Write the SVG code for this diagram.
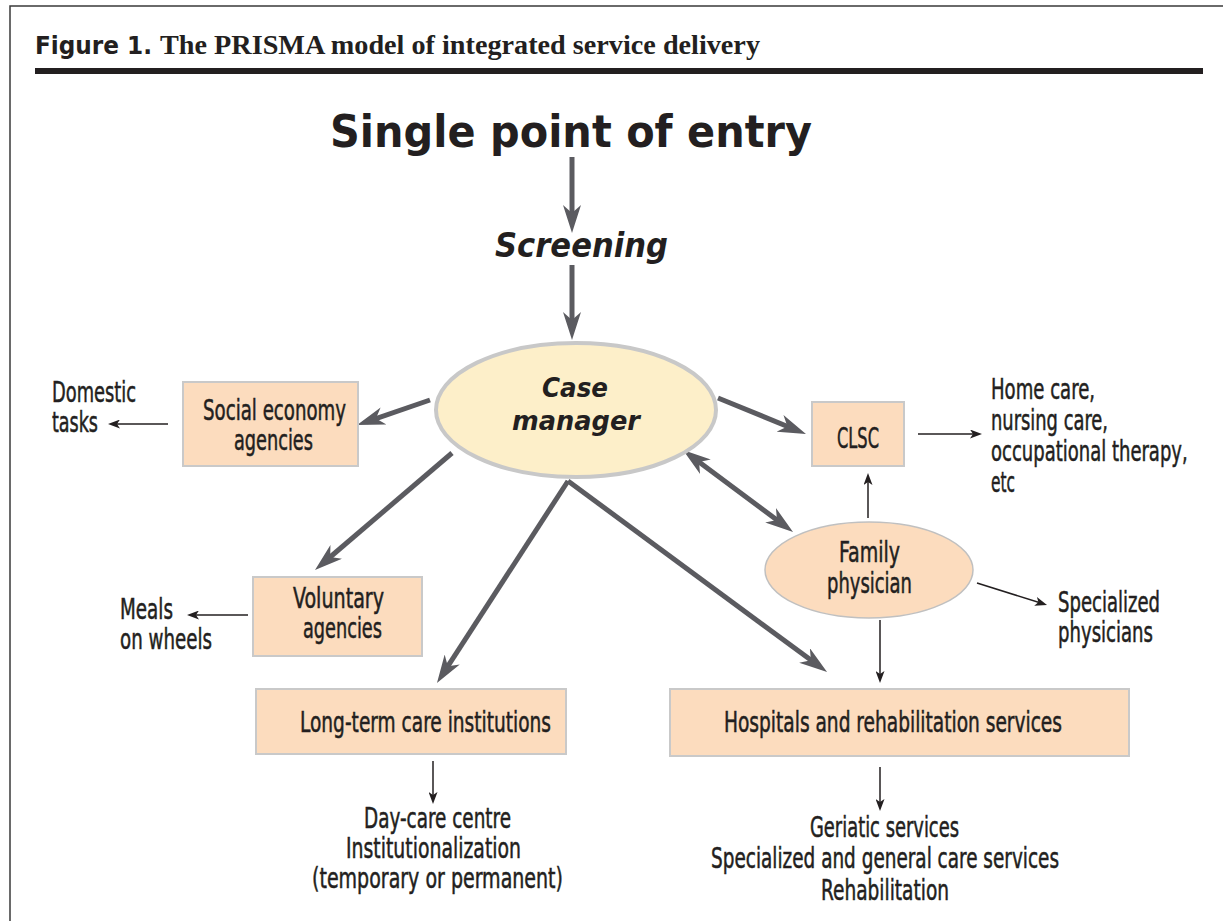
<svg xmlns="http://www.w3.org/2000/svg" width="1223" height="921" viewBox="0 0 1223 921">
<defs>
<style>
.frame{stroke:#3a3a3a;stroke-width:1.5;fill:none}
.box{fill:#fcdcbe;stroke:#c9c9c9;stroke-width:2}
.t{font-family:"DejaVu Sans Condensed","DejaVu Sans",sans-serif;font-stretch:condensed;font-size:28px;fill:#231f20;stroke:#231f20;stroke-width:0.5}
.b{font-family:"DejaVu Sans","Liberation Sans",sans-serif;font-weight:bold;fill:#231f20}
.thick{stroke:#5b5b60;stroke-width:5;fill:none}
.thin{stroke:#231f20;stroke-width:1.5;fill:none}
</style>
<marker id="big" markerUnits="userSpaceOnUse" markerWidth="28" markerHeight="18" viewBox="0 0 28 18" refX="18" refY="9" orient="auto-start-reverse">
<path d="M0,0 L28,9 L0,18 L8,9 Z" fill="#5b5b60"/>
</marker>
<marker id="small" markerUnits="userSpaceOnUse" markerWidth="12" markerHeight="9" viewBox="0 0 12 9" refX="8" refY="4.5" orient="auto">
<path d="M0,0 L12,4.5 L0,9 L3,4.5 Z" fill="#231f20"/>
</marker>
</defs>
<rect width="1223" height="921" fill="#ffffff"/>
<g id="frame">
<path class="frame" d="M10,921 L10,6 L1223,6"/>
<rect x="35" y="68" width="1168" height="6" fill="#231f20"/>
<text x="35" y="54" class="b" font-size="24" textLength="117" lengthAdjust="spacingAndGlyphs">Figure 1.</text>
<text x="160" y="54" font-family="'Liberation Serif',serif" font-weight="bold" font-size="27" fill="#231f20" textLength="600" lengthAdjust="spacingAndGlyphs">The PRISMA model of integrated service delivery</text>
</g>
<g id="connectors">
<line class="thick" x1="572" y1="157" x2="572" y2="223" marker-end="url(#big)"/>
<line class="thick" x1="572" y1="265" x2="572" y2="330" marker-end="url(#big)"/>
<line class="thick" x1="430" y1="400" x2="366.5" y2="421.8" marker-end="url(#big)"/>
<line class="thick" x1="452" y1="453" x2="322.6" y2="563.5" marker-end="url(#big)"/>
<line class="thick" x1="568" y1="481" x2="442.4" y2="674.6" marker-end="url(#big)"/>
<line class="thick" x1="568" y1="481" x2="819" y2="666.1" marker-end="url(#big)"/>
<line class="thick" x1="718" y1="398" x2="796.7" y2="430.2" marker-end="url(#big)"/>
<line class="thick" x1="691" y1="456" x2="785" y2="526" marker-start="url(#big)" marker-end="url(#big)"/>
<line class="thin" x1="168" y1="424" x2="112" y2="424" marker-end="url(#small)"/>
<line class="thin" x1="248" y1="615" x2="191" y2="615" marker-end="url(#small)"/>
<line class="thin" x1="918" y1="434" x2="978" y2="434" marker-end="url(#small)"/>
<line class="thin" x1="868" y1="518" x2="868" y2="477" marker-end="url(#small)"/>
<line class="thin" x1="977" y1="583" x2="1043.2" y2="603.8" marker-end="url(#small)"/>
<line class="thin" x1="880" y1="620" x2="880" y2="679" marker-end="url(#small)"/>
<line class="thin" x1="433" y1="761" x2="433" y2="800" marker-end="url(#small)"/>
<line class="thin" x1="880" y1="767" x2="880" y2="807" marker-end="url(#small)"/>
</g>
<g id="entry">
<text x="330" y="147" class="b" font-size="45" textLength="482" lengthAdjust="spacingAndGlyphs">Single point of entry</text>
</g>
<g id="screening">
<text x="495" y="257" class="b" font-style="italic" font-size="33" textLength="173" lengthAdjust="spacingAndGlyphs">Screening</text>
</g>
<g id="case-manager">
<ellipse cx="576" cy="410" rx="140" ry="67" fill="#fdefc9" stroke="#c8c8c8" stroke-width="4"/>
<text x="542" y="397" class="b" font-style="italic" font-size="26" textLength="66" lengthAdjust="spacingAndGlyphs">Case</text>
<text x="512" y="430" class="b" font-style="italic" font-size="26" textLength="128" lengthAdjust="spacingAndGlyphs">manager</text>
</g>
<g id="social-economy">
<rect class="box" x="183" y="382" width="175" height="84"/>
<text x="203" y="420" class="t" textLength="143" lengthAdjust="spacingAndGlyphs">Social economy</text>
<text x="234" y="450" class="t" textLength="79" lengthAdjust="spacingAndGlyphs">agencies</text>
</g>
<g id="domestic">
<text x="52" y="402" class="t" textLength="84" lengthAdjust="spacingAndGlyphs">Domestic</text>
<text x="52" y="432" class="t" textLength="46" lengthAdjust="spacingAndGlyphs">tasks</text>
</g>
<g id="voluntary">
<rect class="box" x="253" y="577" width="169" height="79"/>
<text x="293" y="608" class="t" textLength="91" lengthAdjust="spacingAndGlyphs">Voluntary</text>
<text x="303" y="638" class="t" textLength="79" lengthAdjust="spacingAndGlyphs">agencies</text>
</g>
<g id="meals">
<text x="120" y="619" class="t" textLength="53" lengthAdjust="spacingAndGlyphs">Meals</text>
<text x="120" y="649" class="t" textLength="92" lengthAdjust="spacingAndGlyphs">on wheels</text>
</g>
<g id="clsc">
<rect class="box" x="812" y="402" width="92" height="64"/>
<text x="837" y="448" class="t" textLength="42" lengthAdjust="spacingAndGlyphs">CLSC</text>
</g>
<g id="home-care">
<text x="991" y="399" class="t" textLength="104" lengthAdjust="spacingAndGlyphs">Home care,</text>
<text x="991" y="430" class="t" textLength="117" lengthAdjust="spacingAndGlyphs">nursing care,</text>
<text x="0" y="0" class="t" transform="translate(991,461) scale(0.7,1)" textLength="281" lengthAdjust="spacingAndGlyphs">occupational therapy,</text>
<text x="991" y="492" class="t" textLength="24" lengthAdjust="spacingAndGlyphs">etc</text>
</g>
<g id="family-physician">
<ellipse cx="869" cy="570" rx="104" ry="48" fill="#fcdcbe" stroke="#c0c0c0" stroke-width="1.5"/>
<text x="839" y="562" class="t" textLength="61" lengthAdjust="spacingAndGlyphs">Family</text>
<text x="827" y="593" class="t" textLength="85" lengthAdjust="spacingAndGlyphs">physician</text>
</g>
<g id="specialized-physicians">
<text x="1058" y="612" class="t" font-size="25" textLength="102" lengthAdjust="spacingAndGlyphs">Specialized</text>
<text x="1058" y="642" class="t" font-size="25" textLength="95" lengthAdjust="spacingAndGlyphs">physicians</text>
</g>
<g id="long-term-care">
<rect class="box" x="256" y="689" width="310" height="65"/>
<text x="300" y="732" class="t" textLength="251" lengthAdjust="spacingAndGlyphs">Long-term care institutions</text>
</g>
<g id="day-care">
<text x="364" y="828" class="t" textLength="147" lengthAdjust="spacingAndGlyphs">Day-care centre</text>
<text x="346" y="858" class="t" textLength="175" lengthAdjust="spacingAndGlyphs">Institutionalization</text>
<text x="312" y="888" class="t" textLength="251" lengthAdjust="spacingAndGlyphs">(temporary or permanent)</text>
</g>
<g id="hospitals">
<rect class="box" x="670" y="689" width="459" height="67"/>
<text x="724" y="732" class="t" textLength="338" lengthAdjust="spacingAndGlyphs">Hospitals and rehabilitation services</text>
</g>
<g id="geriatric">
<text x="810" y="837" class="t" textLength="149" lengthAdjust="spacingAndGlyphs">Geriatic services</text>
<text x="711" y="868" class="t" textLength="348" lengthAdjust="spacingAndGlyphs">Specialized and general care services</text>
<text x="821" y="900" class="t" textLength="128" lengthAdjust="spacingAndGlyphs">Rehabilitation</text>
</g>
</svg>
